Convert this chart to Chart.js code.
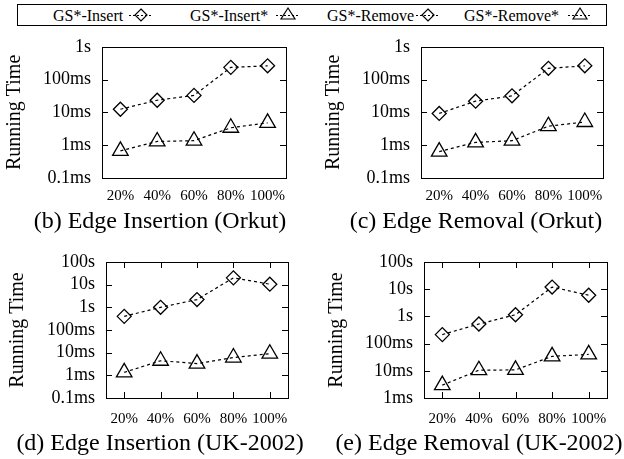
<!DOCTYPE html>
<html>
<head>
<meta charset="utf-8">
<script src="https://cdn.jsdelivr.net/npm/chart.js@4/dist/chart.umd.min.js"></script>
<style>
  body { margin: 0; background: #fff; }
  #wrap { position: relative; width: 624px; height: 459px; font-family: "Liberation Serif", "Times New Roman", serif; color: #000; }
  canvas { position: absolute; }
  .caption { position: absolute; width: 312px; text-align: center; font-size: 24px; line-height: 28px; white-space: nowrap; }
  #legend { position: absolute; left: 17px; top: 4px; width: 588px; height: 20px; border: 1px solid #000; }
  .lg-text { position: absolute; top: 0; font-size: 16px; line-height: 21px; white-space: nowrap; }
  .lg-mark { position: absolute; top: 0; }
</style>
</head>
<body>
<div id="wrap">
  <div id="legend"></div>
  <canvas id="c-b" width="312" height="210" style="left:0;top:25px"></canvas>
  <canvas id="c-c" width="312" height="210" style="left:312px;top:25px"></canvas>
  <canvas id="c-d" width="312" height="224" style="left:0;top:235px"></canvas>
  <canvas id="c-e" width="312" height="224" style="left:312px;top:235px"></canvas>
  <div class="caption" style="left:4px;top:206px">(b) Edge Insertion (Orkut)</div>
  <div class="caption" style="left:320px;top:206px">(c) Edge Removal (Orkut)</div>
  <div class="caption" style="left:4px;top:428px">(d) Edge Insertion (UK-2002)</div>
  <div class="caption" style="left:323px;top:428px">(e) Edge Removal (UK-2002)</div>
</div>
<script>
/* ================= DATA (times in ms) ================= */
const categories = ['20%', '40%', '60%', '80%', '100%'];
const seriesNames = ['GS*-Insert', 'GS*-Insert*', 'GS*-Remove', 'GS*-Remove*'];

const orkutInsert     = [12.5, 23.5, 33, 236, 263];
const orkutInsertStar = [0.67, 1.3, 1.37, 3.4, 4.8];
const orkutRemove     = [9.3, 22, 32, 221, 263];
const orkutRemoveStar = [0.64, 1.22, 1.37, 3.8, 5.1];

const ukInsert     = [400, 1000, 2200, 20000, 10500];
const ukInsertStar = [1.35, 4.4, 3.3, 6.1, 9];
const ukRemove     = [214, 525, 1150, 12000, 6000];
const ukRemoveStar = [2.97, 10.5, 10.8, 34, 40];

const orkutTicks = [0.1, 1, 10, 100, 1000];
const orkutTickLabels = ['0.1ms', '1ms', '10ms', '100ms', '1s'];
const ukInsertTicks = [0.1, 1, 10, 100, 1000, 10000, 100000];
const ukInsertTickLabels = ['0.1ms', '1ms', '10ms', '100ms', '1s', '10s', '100s'];
const ukRemoveTicks = [1, 10, 100, 1000, 10000, 100000];
const ukRemoveTickLabels = ['1ms', '10ms', '100ms', '1s', '10s', '100s'];

const FONT = '"Liberation Serif", "Times New Roman", serif';

/* ================= FRAME + INWARD TICKS ================= */
const framePlugin = {
    id: 'frame',
    afterDraw(chart, args, opts) {
        const { ctx, chartArea: a, scales: { x, y } } = chart;
        const len = 6;
        ctx.save();
        ctx.strokeStyle = '#000';
        ctx.lineWidth = 1;
        ctx.strokeRect(Math.round(a.left) + 0.5, Math.round(a.top) + 0.5,
            Math.round(a.right - a.left), Math.round(a.bottom - a.top));
        ctx.beginPath();
        y.ticks.forEach((t, i) => {
            const py = Math.round(y.getPixelForTick(i)) + 0.5;
            ctx.moveTo(a.left, py); ctx.lineTo(a.left + len, py);
            ctx.moveTo(a.right - len, py); ctx.lineTo(a.right, py);
        });
        if (opts.xTicks) {
            x.ticks.forEach((t, i) => {
                const px = Math.round(x.getPixelForTick(i)) + 0.5;
                ctx.moveTo(px, a.bottom); ctx.lineTo(px, a.bottom - len);
                ctx.moveTo(px, a.top); ctx.lineTo(px, a.top + len);
            });
        }
        ctx.stroke();
        ctx.restore();
    }
};

function lineSet(label, data, style) {
    return {
        label: label,
        data: data,
        borderColor: '#000',
        borderWidth: 1.2,
        borderDash: [3, 3],
        fill: false,
        tension: 0,
        pointStyle: style,
        pointRadius: style === 'triangle' ? 9 : 7,
        pointBorderWidth: 1.3,
        pointBorderColor: '#000',
        pointBackgroundColor: 'rgba(0,0,0,0)'
    };
}

function makePanel(id, cfg) {
    new Chart(document.getElementById(id), {
        type: 'line',
        data: { labels: categories, datasets: cfg.datasets },
        options: {
            responsive: false,
            animation: false,
            devicePixelRatio: 1,
            layout: { padding: { left: 0, right: cfg.padRight, top: cfg.padTop, bottom: 0 } },
            plugins: {
                legend: { display: false },
                tooltip: { enabled: false },
                frame: { xTicks: cfg.xTicks }
            },
            scales: {
                x: {
                    type: 'category',
                    offset: true,
                    grid: { display: false, drawTicks: false },
                    border: { display: false },
                    ticks: { color: '#000', font: { family: FONT, size: 15 }, padding: cfg.xPad, maxRotation: 0, autoSkip: false },
                    afterFit: s => { s.height = cfg.xHeight; }
                },
                y: {
                    type: 'logarithmic',
                    min: cfg.ticks[0],
                    max: cfg.ticks[cfg.ticks.length - 1],
                    grid: { display: false, drawTicks: false },
                    border: { display: false },
                    afterBuildTicks: s => { s.ticks = cfg.ticks.map(v => ({ value: v })); },
                    ticks: {
                        color: '#000',
                        font: { family: FONT, size: 18 },
                        padding: 11,
                        autoSkip: false,
                        callback: v => cfg.tickLabels[cfg.ticks.indexOf(v)]
                    },
                    title: {
                        display: true,
                        text: 'Running Time',
                        color: '#000',
                        font: { family: FONT, size: 20 },
                        padding: { top: cfg.titlePad, bottom: 0 }
                    },
                    afterFit: s => { s.width = cfg.yWidth; }
                }
            }
        },
        plugins: [framePlugin]
    });
}

makePanel('c-b', {
    datasets: [lineSet(seriesNames[0], orkutInsert, 'rectRot'), lineSet(seriesNames[1], orkutInsertStar, 'triangle')],
    ticks: orkutTicks, tickLabels: orkutTickLabels,
    yWidth: 102, padRight: 26, padTop: 17, xHeight: 57, xPad: 9, titlePad: 3, xTicks: false
});
makePanel('c-c', {
    datasets: [lineSet(seriesNames[2], orkutRemove, 'rectRot'), lineSet(seriesNames[3], orkutRemoveStar, 'triangle')],
    ticks: orkutTicks, tickLabels: orkutTickLabels,
    yWidth: 109, padRight: 21, padTop: 17, xHeight: 57, xPad: 9, titlePad: 10, xTicks: false
});
makePanel('c-d', {
    datasets: [lineSet(seriesNames[0], ukInsert, 'rectRot'), lineSet(seriesNames[1], ukInsertStar, 'triangle')],
    ticks: ukInsertTicks, tickLabels: ukInsertTickLabels,
    yWidth: 106, padRight: 24, padTop: 27, xHeight: 61, xPad: 12, titlePad: 6, xTicks: true
});
makePanel('c-e', {
    datasets: [lineSet(seriesNames[2], ukRemove, 'rectRot'), lineSet(seriesNames[3], ukRemoveStar, 'triangle')],
    ticks: ukRemoveTicks, tickLabels: ukRemoveTickLabels,
    yWidth: 112, padRight: 17, padTop: 27, xHeight: 61, xPad: 12, titlePad: 13, xTicks: true
});

/* ================= SHARED LEGEND ================= */
const legendTextLeft = [35, 172, 309, 446];
const legendMarkCenter = [123, 270, 410, 562];
const legendMarks = ['diamond', 'triangle', 'diamond', 'triangle'];

function markSvg(kind) {
    const shape = kind === 'diamond'
        ? '<polygon points="14,4 20,10 14,16 8,10" fill="none" stroke="#000" stroke-width="1.2"/>'
        : '<polygon points="14,3 21,14 7,14" fill="none" stroke="#000" stroke-width="1.2"/>';
    return '<svg width="28" height="20" viewBox="0 0 28 20">' +
        '<line x1="2" y1="10.5" x2="26" y2="10.5" stroke="#000" stroke-width="1" stroke-dasharray="2,2"/>' +
        shape + '</svg>';
}

const legend = document.getElementById('legend');
legend.innerHTML = seriesNames.map((name, i) =>
    `<span class="lg-text" style="left:${legendTextLeft[i]}px">${name}</span>` +
    `<span class="lg-mark" style="left:${legendMarkCenter[i] - 14}px">${markSvg(legendMarks[i])}</span>`
).join('');
</script>
</body>
</html>
